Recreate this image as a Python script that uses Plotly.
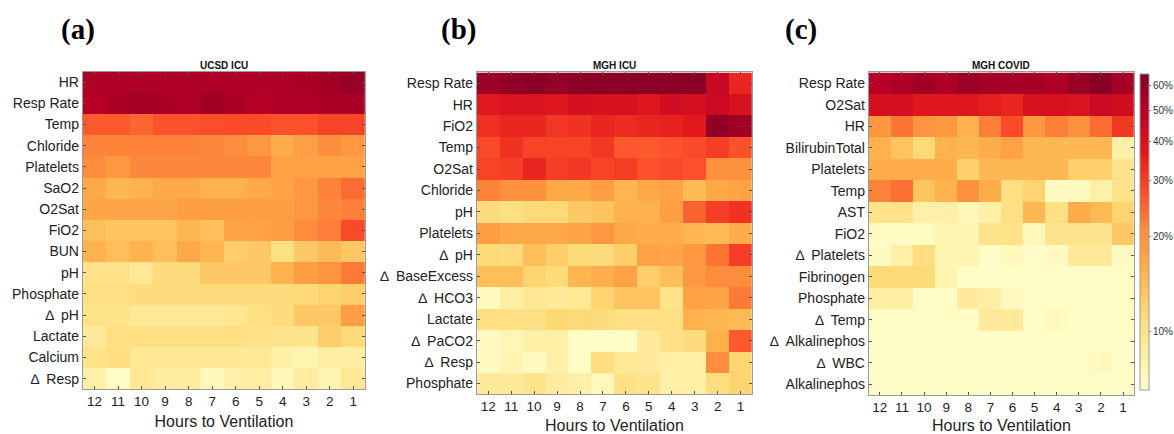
import numpy as np
import plotly.graph_objects as go

hours = ["12", "11", "10", "9", "8", "7", "6", "5", "4", "3", "2", "1"]

D = "∆\u2002"  # delta prefix used in feature names

rows_a = ["HR", "Resp Rate", "Temp", "Chloride", "Platelets", "SaO2", "O2Sat", "FiO2",
          "BUN", "pH", "Phosphate", D + "pH", "Lactate", "Calcium", D + "Resp"]
vals_a = [
    [52, 52, 52, 52, 52, 52, 52, 52, 52, 53, 55, 58],
    [50, 53, 54, 53, 52, 55, 53, 50, 52, 52, 53, 53],
    [26, 26, 24.5, 27, 27, 27.5, 28, 28, 27, 27, 29, 29],
    [21.5, 21.5, 21.5, 21.5, 21.5, 21, 20.5, 19, 16, 17.8, 20.5, 19],
    [20.5, 19, 21, 21, 21, 21, 21, 21, 17.5, 17.5, 17.5, 17.5],
    [16.5, 15, 15.5, 16.5, 16.5, 15.5, 15.5, 16.5, 17.5, 19, 21.5, 24],
    [17, 17, 17, 17, 18, 18, 18, 18, 18, 19, 21, 22],
    [14, 13.5, 13.5, 13.5, 15, 14, 17, 17.5, 18, 20.5, 22, 28],
    [15.5, 14, 15.3, 14, 16.5, 15, 12.5, 13, 10.5, 13, 14.5, 13],
    [10, 10, 9.5, 11, 11, 13, 13, 13, 15.3, 18, 19.5, 22.5],
    [10.5, 10.5, 11, 11, 11, 11, 11, 11, 11, 11.5, 12, 12.5],
    [10, 10, 9.3, 9.3, 9.3, 9.3, 9.6, 10.5, 11, 13, 13, 18],
    [9, 10.5, 10.5, 10.5, 10.5, 10.5, 10.5, 10, 9.8, 9.8, 12.5, 11.5],
    [10, 10.8, 9.5, 9.5, 9.5, 9.5, 9.5, 9.2, 8.3, 7.8, 8.6, 8.6],
    [8.3, 6.8, 9.5, 8.8, 8.8, 7.3, 8.3, 8.6, 7.4, 8.8, 7.8, 9.5],
]

rows_b = ["Resp Rate", "HR", "FiO2", "Temp", "O2Sat", "Chloride", "pH", "Platelets", D + "pH",
          D + "BaseExcess", D + "HCO3", "Lactate", D + "PaCO2", D + "Resp", "Phosphate"]
vals_b = [
    [57, 60, 62, 59, 61, 61, 62, 61, 61, 62, 45, 34],
    [37, 39, 39, 38, 41, 40, 40, 38, 42, 41, 44, 40],
    [32, 34, 34, 31, 32, 34, 33, 34, 35, 37, 60, 56],
    [28, 32, 29, 29, 29, 31, 26, 26, 27, 28, 30, 27],
    [29, 30, 34, 30, 31, 29, 30, 27, 28, 27, 20, 20],
    [21.5, 20, 20, 16.5, 16.5, 18, 15, 16.5, 17.5, 14.5, 16.5, 17.5],
    [11, 10.5, 11.5, 11.5, 13, 13.5, 15.5, 15.5, 18, 25, 30, 32],
    [18, 16.5, 16.5, 16.5, 17, 19, 16.5, 16, 16, 15, 14.5, 16],
    [11.3, 11, 14, 12.5, 11.3, 11, 12.5, 17.5, 17, 19, 23, 30],
    [14, 14, 12, 11.3, 15, 15.8, 17.5, 12.5, 14, 19, 20.5, 20.5],
    [7, 8.5, 9.5, 9, 9.5, 12, 13.5, 13.5, 10, 17.5, 17, 22.5],
    [10.5, 10.5, 10.5, 11.8, 11.5, 11, 10.5, 10.5, 10.5, 15.5, 15, 14.5],
    [7, 7.5, 8.3, 8.2, 6.8, 6.8, 6.8, 9, 10.3, 11, 15.4, 26],
    [7, 7.8, 7, 8.3, 6.8, 10.8, 9.5, 9, 8.2, 8.2, 20.5, 11.8],
    [9, 9, 9.8, 8.8, 8.2, 7.3, 10.3, 9.8, 8.2, 8.2, 10.8, 12],
]

rows_c = ["Resp Rate", "O2Sat", "HR", "BilirubinTotal", "Platelets", "Temp", "AST", "FiO2",
          D + "Platelets", "Fibrinogen", "Phosphate", D + "Temp", D + "Alkalinephos", D + "WBC",
          "Alkalinephos"]
vals_c = [
    [50, 52, 56, 52, 57, 54, 54, 54, 52, 58, 63, 54],
    [41, 41, 38, 38, 38, 36, 34, 40, 40, 39, 44, 42],
    [19.2, 23, 19.5, 19, 15.5, 22, 28, 19, 22, 20, 24, 31],
    [15.5, 13.5, 11.5, 15.5, 15, 16, 17.5, 14.7, 14.7, 14.7, 14.7, 8.3],
    [16, 16, 16, 16, 12.3, 14.7, 14.7, 14.7, 14.7, 12.3, 12.3, 10],
    [21.5, 23.5, 13.5, 15.5, 20, 16, 10.5, 12, 7, 7, 8.3, 10],
    [10, 10, 8.2, 8.2, 7.4, 8.3, 10.5, 14.7, 10.5, 16.2, 14.5, 12],
    [6.9, 6.9, 6.9, 7.8, 7.8, 10, 10, 7.3, 9.8, 9.8, 9.8, 13],
    [7, 8.3, 10.8, 7.8, 7.8, 6.7, 7.2, 6.7, 7, 9, 9, 7],
    [11.3, 11.3, 11.3, 7.8, 6.8, 6.8, 6.8, 6.8, 6.8, 6.8, 6.8, 6.8],
    [8.5, 8.5, 6.8, 6.8, 9, 8.5, 7, 6.8, 6.8, 6.8, 6.8, 6.8],
    [6.8, 6.8, 6.8, 6.8, 6.8, 9, 9, 6.8, 7.1, 6.8, 6.8, 6.8],
    [6.7, 6.7, 6.7, 6.7, 6.7, 6.7, 6.7, 6.7, 6.7, 6.7, 6.7, 6.7],
    [6.7, 6.7, 6.7, 6.7, 6.7, 6.7, 6.7, 6.7, 6.7, 6.7, 7.1, 6.7],
    [6.7, 6.7, 6.7, 6.7, 6.7, 6.7, 6.7, 6.7, 6.7, 6.7, 6.7, 6.7],
]

titles = ["UCSD ICU", "MGH ICU", "MGH COVID"]
letters = ["(a)", "(b)", "(c)"]
cbar_ticks = [10, 20, 30, 40, 50, 60]

W, H = 1174, 434
colorscale = [[0.0, "#ffffcc"], [0.125, "#ffeda0"], [0.25, "#fed976"], [0.375, "#feb24c"],
              [0.5, "#fd8d3c"], [0.625, "#fc4e2a"], [0.75, "#e31a1c"], [0.875, "#bd0026"],
              [1.0, "#800026"]]

# pixel boxes: (left, right, top, bottom)
boxes = [(83, 366, 72, 392), (478, 754, 73, 397), (871, 1137, 73, 398)]
standoffs = [7, 6, 7]
letter_x = [78, 460, 803]

FONT = "Liberation Sans, Arial, sans-serif"
fig = go.Figure()
layout = {}
for i, (rows, vals) in enumerate([(rows_a, vals_a), (rows_b, vals_b), (rows_c, vals_c)]):
    sfx = "" if i == 0 else str(i + 1)
    fig.add_trace(go.Heatmap(
        x=hours, y=rows, z=np.log10(np.array(vals, dtype=float)),
        coloraxis="coloraxis", xaxis="x" + sfx, yaxis="y" + sfx,
        hovertemplate="%{y} %{x}h<extra></extra>"))
    l, r, t, b = boxes[i]
    axcommon = dict(showline=True, mirror="ticks", linecolor="#9a9a9a", linewidth=1,
                    ticks="inside", ticklen=3, tickcolor="#555", showgrid=False,
                    zeroline=False)
    layout["xaxis" + sfx] = dict(domain=[l / W, r / W], anchor="y" + sfx,
                                 tickfont=dict(family=FONT, size=13.5, color="#222"),
                                 title=dict(text="Hours to Ventilation", standoff=standoffs[i],
                                            font=dict(family=FONT, size=16, color="#222")),
                                 **axcommon)
    layout["yaxis" + sfx] = dict(domain=[1 - b / H, 1 - t / H], anchor="x" + sfx,
                                 tickfont=dict(family=FONT, size=14, color="#222"),
                                 autorange="reversed", **axcommon)
    fig.add_annotation(x=(l + r) / 2 / W, y=1 - 66 / H, xref="paper", yref="paper",
                       text="<b>%s</b>" % titles[i], showarrow=False,
                       font=dict(family=FONT, size=10, color="#111"),
                       xanchor="center", yanchor="middle")
    fig.add_annotation(x=letter_x[i] / W, y=1 - 30 / H, xref="paper", yref="paper",
                       text="<b>%s</b>" % letters[i], showarrow=False,
                       font=dict(family="Liberation Serif, Times New Roman, serif", size=29,
                                 color="#000"), xanchor="center", yanchor="middle")

fig.update_layout(
    width=W, height=H, margin=dict(l=0, r=0, t=0, b=0),
    paper_bgcolor="white", plot_bgcolor="white",
    coloraxis=dict(
        colorscale=colorscale, cmin=np.log10(6.5), cmax=np.log10(65),
        colorbar=dict(
            x=1143 / W, xanchor="left", y=1 - 234 / H, yanchor="middle",
            len=318 / H, lenmode="fraction", thickness=9, thicknessmode="pixels",
            outlinecolor="#9a9a9a", outlinewidth=1,
            tickvals=list(np.log10(cbar_ticks)), ticktext=["%d%%" % v for v in cbar_ticks],
            ticks="outside", ticklen=2, tickcolor="#777",
            tickfont=dict(family=FONT, size=10, color="#333"), xpad=0, ypad=0)),
    **layout)

fig.write_html("out.html")
